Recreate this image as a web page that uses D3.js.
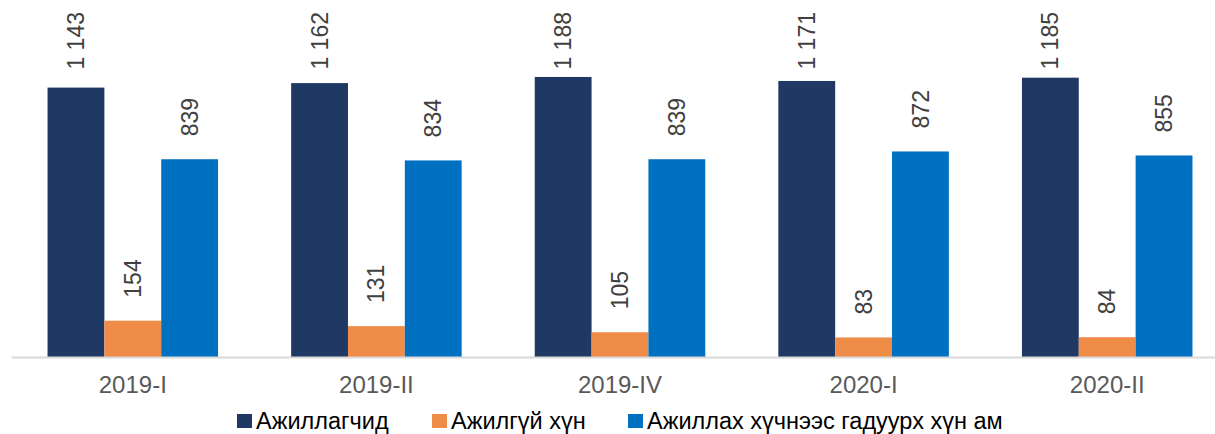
<!DOCTYPE html>
<html>
<head>
<meta charset="utf-8">
<script src="https://cdn.jsdelivr.net/npm/d3@7"></script>
<style>
  body { margin: 0; background: #fff; }
  text { font-family: Arial, "Liberation Sans", sans-serif; }
</style>
</head>
<body>
<div id="chart"></div>
<script>
var categories = ["2019-I", "2019-II", "2019-IV", "2020-I", "2020-II"];
var seriesNames = ["Ажиллагчид", "Ажилгүй хүн", "Ажиллах хүчнээс гадуурх хүн ам"];
var employed = [1143, 1162, 1188, 1171, 1185];
var unemployed = [154, 131, 105, 83, 84];
var outsideLabour = [839, 834, 839, 872, 855];
var colors = ["#203864", "#ef8c48", "#0070c0"];

var width = 1215, height = 434;
var allSeries = [employed, unemployed, outsideLabour];

var svg = d3.select("#chart").append("svg")
    .attr("width", width).attr("height", height);

var x0 = d3.scaleBand().domain(categories).range([11, 1229]).padding(0);
var x1 = d3.scaleBand().domain(d3.range(3))
    .range([x0.bandwidth() * 0.15, x0.bandwidth() * 0.85]).padding(0);
var y = d3.scaleLinear().domain([0, 1400]).range([357, 27]);

var fmt = function(v) { return d3.format(",")(v).replace(",", " "); };

var groups = svg.selectAll(".cat").data(categories).enter().append("g")
    .attr("class", "cat")
    .attr("transform", function(d) { return "translate(" + x0(d) + ",0)"; });

groups.selectAll("rect").data(function(d, i) {
    return allSeries.map(function(s, k) { return { k: k, v: s[i] }; });
  }).enter().append("rect")
    .attr("x", function(d) { return x1(d.k); })
    .attr("width", x1.bandwidth())
    .attr("y", function(d) { return y(d.v); })
    .attr("height", function(d) { return y(0) - y(d.v); })
    .attr("fill", function(d) { return colors[d.k]; });

// value labels, pushed down so they stay inside the top edge (as Excel does)
groups.selectAll(".lbl").data(function(d, i) {
    return allSeries.map(function(s, k) { return { k: k, v: s[i] }; });
  }).enter().append("text")
    .attr("class", "lbl")
    .attr("dy", "0.35em")
    .attr("text-anchor", "start")
    .attr("fill", "#404040")
    .style("font-size", "23px")
    .text(function(d) { return fmt(d.v); })
    .attr("transform", function(d) {
      var len = this.getComputedTextLength();
      var start = Math.max(y(d.v) - 23, 12 + len);
      return "translate(" + (x1(d.k) + x1.bandwidth() / 2) + "," + start + ") rotate(-90)";
    });

// axis
var xAxis = d3.axisBottom(x0).tickSize(0).tickPadding(19);
var ax = svg.append("g").attr("transform", "translate(0," + y(0) + ")").call(xAxis);
ax.select(".domain").attr("stroke", "#d9d9d9").attr("stroke-width", 2);
ax.selectAll("text").attr("fill", "#595959").style("font-size", "24px")
  .style("font-family", "Arial, 'Liberation Sans', sans-serif");

// legend
var legendX = [237, 432, 628];
var legend = svg.append("g").selectAll("g").data(seriesNames).enter().append("g")
    .attr("transform", function(d, i) { return "translate(" + legendX[i] + ",421)"; });
legend.append("rect").attr("x", 0).attr("y", -7).attr("width", 15).attr("height", 14)
    .attr("fill", function(d, i) { return colors[i]; });
legend.append("text").attr("x", 19).attr("dy", "0.35em")
    .attr("fill", "#000").style("font-size", "23.5px")
    .text(function(d) { return d; });
</script>
</body>
</html>
